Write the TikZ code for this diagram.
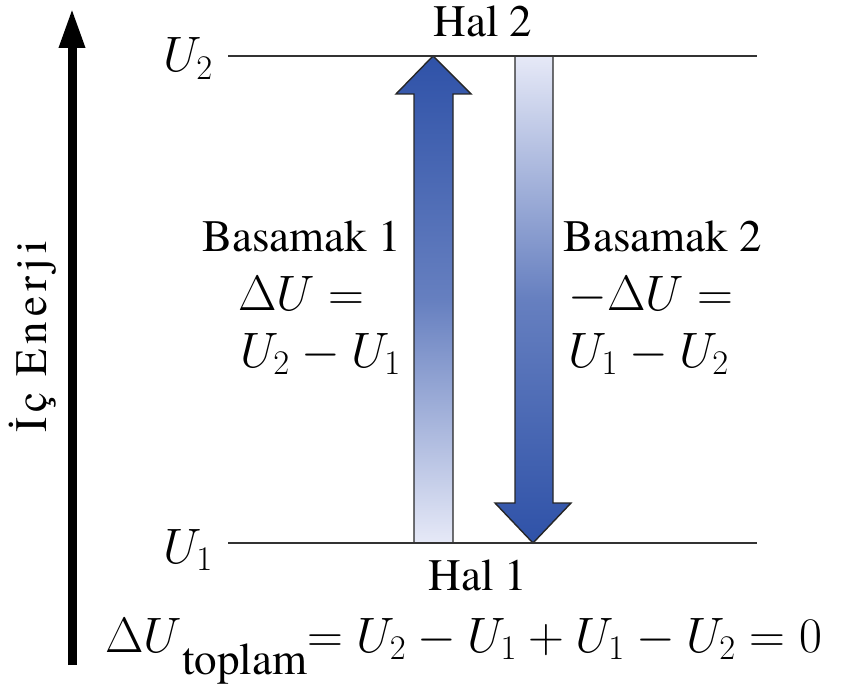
\documentclass[tikz,border=0pt]{standalone}
\usepackage{fontspec}
\setmainfont{TeX Gyre Termes}
\usetikzlibrary{arrows.meta}
\definecolor{deep}{HTML}{2f52a8}
\definecolor{pale}{HTML}{e6e9f7}
\begin{document}
\begin{tikzpicture}[x=0.5pt,y=-0.5pt,
   txt/.style={font=\fontsize{22.5}{28}\selectfont,inner sep=0pt},
   eq/.style={font=\fontsize{25}{28}\selectfont,inner sep=0pt},
   level/.style={line width=1pt,black!80},
   blk/.style={draw=black!85,line width=0.7pt,line join=miter}]
  \useasboundingbox (0,0) rectangle (849,689);
  \coordinate (axbot) at (72,665);
  \coordinate (axtop) at (72,8);
  \draw[line width=4.5pt,-{Triangle[width=12pt,length=20pt]}] (axbot) -- (axtop);
  \node[txt,rotate=90] (axis) at (33,337) {\addfontfeature{LetterSpace=11}İç Enerji};
  \coordinate (u2a) at (228,56);
  \coordinate (u2b) at (757,56);
  \coordinate (u1a) at (228,543);
  \coordinate (u1b) at (757,543);
  \draw[blk,top color=deep,bottom color=pale,middle color=deep!70!pale]
     (433,56) -- (471,94) -- (453,94) -- (453,543) -- (414,543) -- (414,94) -- (396,94) -- cycle;
  \draw[blk,top color=pale,bottom color=deep,middle color=deep!70!pale]
     (515,56) -- (553,56) -- (553,503) -- (571,503) -- (533,543) -- (495,503) -- (515,503) -- cycle;
  \draw[level] (u2a) -- (u2b);
  \draw[level] (u1a) -- (u1b);
  \node[eq,anchor=base west] (lu2) at (163,72) {$U_2$};
  \node[eq,anchor=base west] (lu1) at (163,563) {$U_1$};
  \node[txt,anchor=base] (hal2) at (483,37) {Hal 2};
  \node[txt,anchor=base] (hal1) at (478,590) {Hal 1};
  \node[txt,anchor=base west] (step1) at (202,252) {Basamak 1};
  \node[eq,anchor=base west] (step1a) at (238,310) {$\Delta U =$};
  \node[eq,anchor=base west] (step1b) at (240,367) {$U_2 - U_1$};
  \node[txt,anchor=base west] (step2) at (563,252) {Basamak 2};
  \node[eq,anchor=base west] (step2a) at (568,310) {$-\Delta U =$};
  \node[eq,anchor=base west] (step2b) at (568,367) {$U_1 - U_2$};
  \node[eq,anchor=base west] (total) at (105,652)
     {$\Delta U$\raisebox{-11pt}{\fontsize{22.5}{22.5}\selectfont toplam}$= U_2 - U_1 + U_1 - U_2 = 0$};
\end{tikzpicture}
\end{document}
